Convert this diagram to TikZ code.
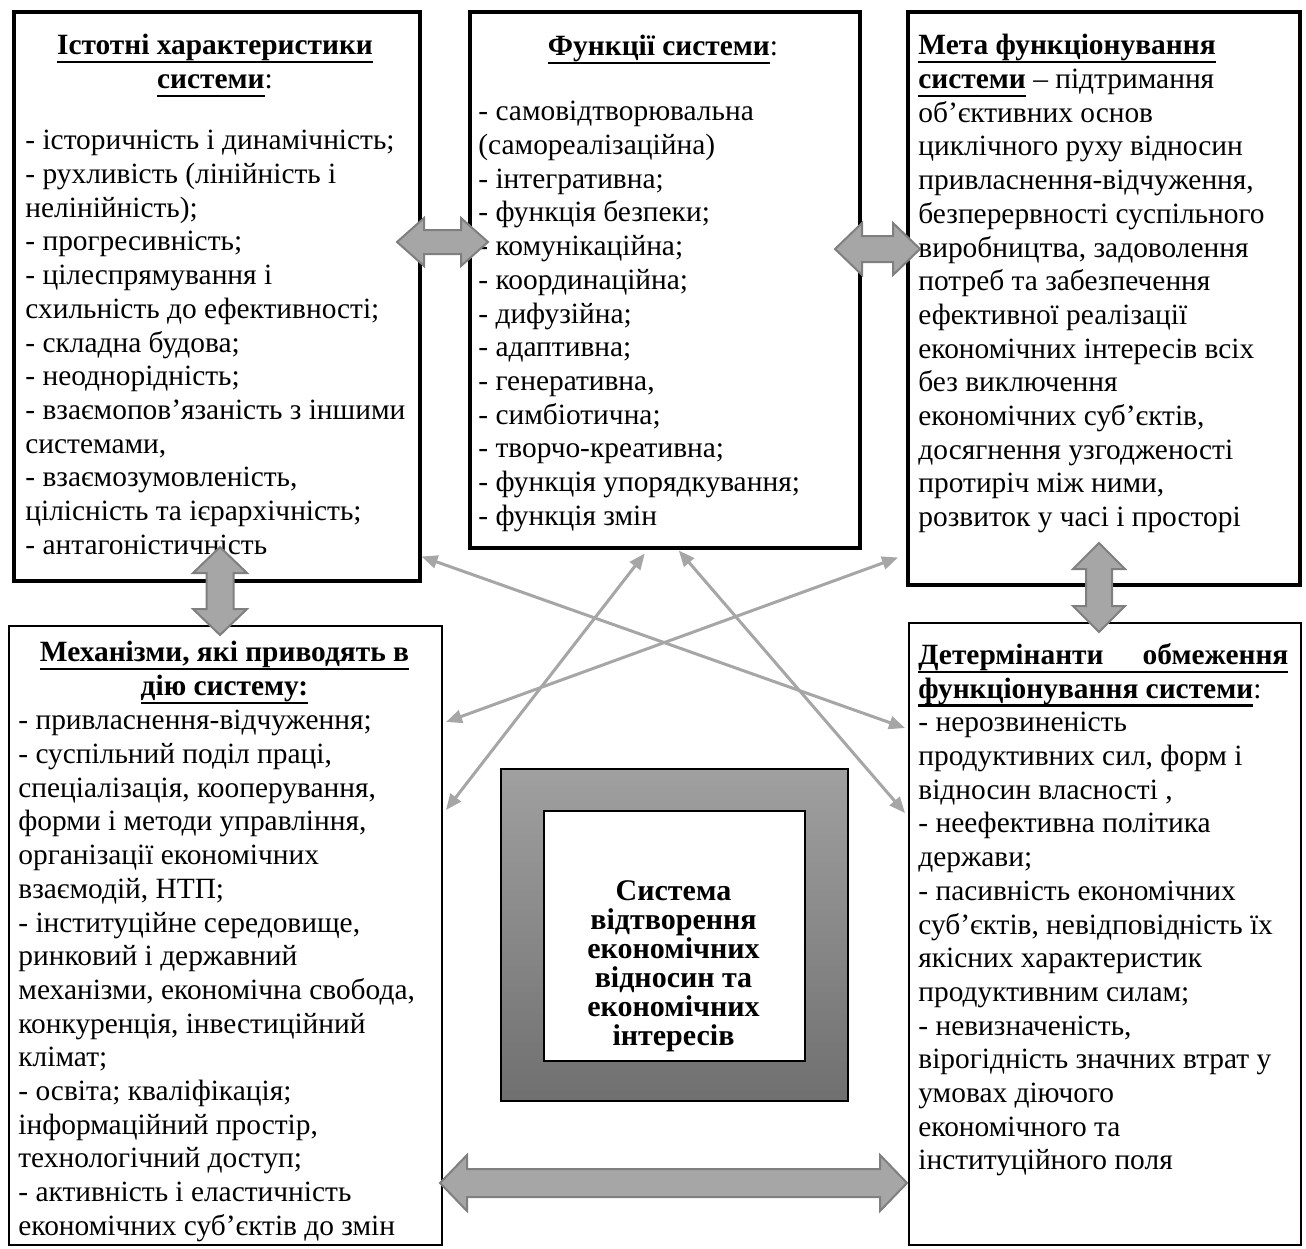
\documentclass[tikz,border=0pt]{standalone}
\usepackage{fontspec}
\setmainfont{Liberation Serif}
\usetikzlibrary{arrows.meta,calc}

\definecolor{arrowgray}{RGB}{166,166,166}
\definecolor{edgegray}{RGB}{127,127,127}
\definecolor{shadetop}{RGB}{160,160,160}
\definecolor{shadebot}{RGB}{112,112,112}

\tikzset{
  thickbox/.style={draw=black, line width=1.75pt, inner sep=0pt, anchor=north west},
  thinbox/.style={draw=black, line width=1pt, inner sep=0pt, anchor=north west},
  txt/.style={inner sep=0pt, align=left, anchor=north west,
    font=\fontsize{14.7}{16.85}\selectfont, execute at begin node=\strut},
  headtxt/.style={txt, align=center, anchor=north},
  link/.style={draw=arrowgray, line width=1.5pt,
    {Triangle[length=8pt,width=6.5pt]}-{Triangle[length=8pt,width=6.5pt]}},
  blockarrow/.style={fill=arrowgray, draw=edgegray, line width=1pt, line join=miter}
}

% heading underline, a little heavier than \underline
\newlength{\hdwidth}
\newcommand{\hdline}[1]{\settowidth{\hdwidth}{#1}\rlap{\rule[-4.2pt]{\hdwidth}{1.1pt}}#1}

% #1 left x, #2 right x, #3 centre y, #4 half height of the heads
\newcommand{\harrowblock}[4]{%
  \draw[blockarrow] (#1,#3) -- (#1+27,#3-#4) -- (#1+27,#3-#4/2) -- (#2-27,#3-#4/2)
    -- (#2-27,#3-#4) -- (#2,#3) -- (#2-27,#3+#4) -- (#2-27,#3+#4/2)
    -- (#1+27,#3+#4/2) -- (#1+27,#3+#4) -- cycle;}
% #1 centre x, #2 top y, #3 bottom y, #4 half width of the heads
\newcommand{\varrowblock}[4]{%
  \draw[blockarrow] (#1,#2) -- (#1+#4,#2+26) -- (#1+#4/2,#2+26) -- (#1+#4/2,#3-26)
    -- (#1+#4,#3-26) -- (#1,#3) -- (#1-#4,#3-26) -- (#1-#4/2,#3-26)
    -- (#1-#4/2,#2+26) -- (#1-#4,#2+26) -- cycle;}

\begin{document}
\begin{tikzpicture}[x=0.5pt, y=-0.5pt]
\useasboundingbox (0,0) rectangle (1306,1248);

% boxes
\node[thickbox, minimum width=203pt, minimum height=284.5pt] (ist) at (12,10) {};
\node[thickbox, minimum width=195pt, minimum height=268pt] (fun) at (468,10) {};
\node[thickbox, minimum width=196pt, minimum height=286.5pt] (meta) at (906,10) {};
\node[thinbox, minimum width=216.5pt, minimum height=309.5pt] (mech) at (8,625) {};
\node[thinbox, minimum width=196pt, minimum height=311pt] (det) at (908,622) {};

% central block
\shade[top color=shadetop, bottom color=shadebot] (500,768) rectangle (847,1100);
\node[thinbox, minimum width=173.5pt, minimum height=166pt] (outer) at (500,768) {};
\node[thinbox, fill=white, minimum width=130.5pt, minimum height=125pt] (inner) at (543,810) {};
\node[headtxt, font=\fontsize{15}{14.5}\selectfont\bfseries] (core) at (673.5,880)
  {Система\\відтворення\\економічних\\відносин та\\економічних\\інтересів};

% texts
\node[headtxt] (istHead) at (215,34)
  {\hdline{\textbf{Істотні характеристики}}\\\hdline{\textbf{системи}}:};
\node[txt] (istList) at (25,130)
  {- історичність і динамічність;\\
   - рухливість (лінійність і\\
   нелінійність);\\
   - прогресивність;\\
   - цілеспрямування і\\
   схильність до ефективності;\\
   - складна будова;\\
   - неоднорідність;\\
   - взаємопов’язаність з іншими\\
   системами,\\
   - взаємозумовленість,\\
   цілісність та ієрархічність;\\
   - антагоністичність};

\node[headtxt] (funHead) at (663,32) {\hdline{\textbf{Функції системи}}:};
\node[txt] (funList) at (478,101)
  {- самовідтворювальна\\
   (самореалізаційна)\\
   - інтегративна;\\
   - функція безпеки;\\
   - комунікаційна;\\
   - координаційна;\\
   - дифузійна;\\
   - адаптивна;\\
   - генеративна,\\
   - симбіотична;\\
   - творчо-креативна;\\
   - функція упорядкування;\\
   - функція змін};

\node[txt] (metaText) at (918,34)
  {\hdline{\textbf{Мета функціонування}}\\
   \hdline{\textbf{системи}} – підтримання\\
   об’єктивних основ\\
   циклічного руху відносин\\
   привласнення-відчуження,\\
   безперервності суспільного\\
   виробництва, задоволення\\
   потреб та забезпечення\\
   ефективної реалізації\\
   економічних інтересів всіх\\
   без виключення\\
   економічних суб’єктів,\\
   досягнення узгодженості\\
   протиріч між ними,\\
   розвиток у часі і просторі};

\node[headtxt] (mechHead) at (224.5,641)
  {\hdline{\textbf{Механізми, які приводять в}}\\\hdline{\textbf{дію систему:}}};
\node[txt] (mechList) at (18,710)
  {- привласнення-відчуження;\\
   - суспільний поділ праці,\\
   спеціалізація, кооперування,\\
   форми і методи управління,\\
   організації економічних\\
   взаємодій, НТП;\\
   - інституційне середовище,\\
   ринковий і державний\\
   механізми, економічна свобода,\\
   конкуренція, інвестиційний\\
   клімат;\\
   - освіта; кваліфікація;\\
   інформаційний простір,\\
   технологічний доступ;\\
   - активність і еластичність\\
   економічних суб’єктів до змін};

\node[txt] (detText) at (918,643)
  {\hdline{\makebox[185pt]{\textbf{Детермінанти}\hfill\textbf{обмеження}}}\\
   \hdline{\textbf{функціонування системи}}:\\
   - нерозвиненість\\
   продуктивних сил, форм і\\
   відносин власності ,\\
   - неефективна політика\\
   держави;\\
   - пасивність економічних\\
   суб’єктів, невідповідність їх\\
   якісних характеристик\\
   продуктивним силам;\\
   - невизначеність,\\
   вірогідність значних втрат у\\
   умовах діючого\\
   економічного та\\
   інституційного поля};

% thin links
\draw[link] ($(ist.south east)+(0,-26)$) -- ($(det.north west)+(-3,106)$);
\draw[link] ($(mech.north east)+(3,97)$) -- ($(meta.south west)+(-8,-29)$);
\draw[link] ($(mech.north east)+(3,185)$) -- ($(fun.south)+(-20,4)$);
\draw[link] ($(fun.south)+(14,1)$) -- ($(det.north west)+(-3,191)$);

% block arrows
\harrowblock{397}{488}{242}{24}
\harrowblock{835}{920}{249}{26}
\harrowblock{440}{907}{1183}{28}
\varrowblock{220}{547}{635}{27}
\varrowblock{1099}{543}{632}{26}
\end{tikzpicture}
\end{document}
